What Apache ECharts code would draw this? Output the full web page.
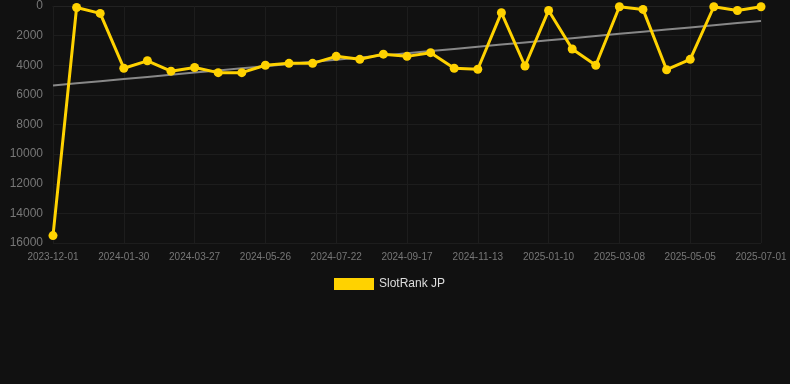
<!DOCTYPE html>
<html>
<head>
<meta charset="utf-8">
<script src="https://cdn.jsdelivr.net/npm/echarts@6/dist/echarts.min.js"></script>
<style>
  html, body { margin: 0; padding: 0; background: #111111; }
  #box { width: 790px; height: 384px; }
</style>
</head>
<body>
<div id="box"></div>
<script>
var chart = echarts.init(document.getElementById('box'));

// dates on the x axis (every 3rd one is labelled)
var dates = [
  '2023-12-01', '2023-12-21', '2024-01-10', '2024-01-30', '2024-02-18', '2024-03-08',
  '2024-03-27', '2024-04-16', '2024-05-06', '2024-05-26', '2024-06-14', '2024-07-03',
  '2024-07-22', '2024-08-10', '2024-08-29', '2024-09-17', '2024-10-06', '2024-10-25',
  '2024-11-13', '2024-12-03', '2024-12-22', '2025-01-10', '2025-01-29', '2025-02-17',
  '2025-03-08', '2025-03-27', '2025-04-16', '2025-05-05', '2025-05-24', '2025-06-12',
  '2025-07-01'
];

// rank values
var ranks = [
  15500, 100, 500, 4200, 3700, 4400,
  4150, 4500, 4500, 4000, 3870, 3870,
  3400, 3600, 3250, 3400, 3150, 4200,
  4270, 450, 4050, 300, 2900, 4000,
  50, 230, 4300, 3600, 50, 300,
  50
];

var seriesName = 'SlotRank JP';

// linear trend through the ranks
function trend(vals) {
  var n = vals.length, sx = 0, sy = 0, sxy = 0, sxx = 0;
  for (var i = 0; i < n; i++) {
    sx += i; sy += vals[i]; sxy += i * vals[i]; sxx += i * i;
  }
  var b = (n * sxy - sx * sy) / (n * sxx - sx * sx);
  var a = (sy - b * sx) / n;
  return vals.map(function(v, i) { return +(a + b * i).toFixed(1); });
}
var trendData = trend(ranks);

var gridColor = '#1d1d1d';
var font = 'Liberation Sans, Arial, sans-serif';

option = {
  backgroundColor: '#111111',
  animation: false,
  legend: {
    data: [{ name: seriesName, icon: 'rect' }],
    top: 273,
    left: 329,
    itemWidth: 40,
    itemHeight: 12,
    itemGap: 10,
    textStyle: { color: '#dddddd', fontSize: 12, fontFamily: font }
  },
  grid: {
    left: 53,
    right: 29,
    top: 6,
    bottom: 141
  },
  xAxis: {
    type: 'category',
    data: dates,
    boundaryGap: false,
    axisLine: { show: true, lineStyle: { color: '#222222' } },
    axisTick: { show: true, interval: 2, length: 5, lineStyle: { color: gridColor } },
    axisLabel: {
      interval: 2,
      color: '#777777',
      fontSize: 10,
      margin: 9,
      fontFamily: font
    },
    splitLine: { show: true, interval: 2, lineStyle: { color: gridColor, width: 1 } }
  },
  yAxis: {
    type: 'value',
    inverse: true,
    min: 0,
    max: 16000,
    interval: 2000,
    axisLine: { show: false },
    axisTick: { show: false },
    axisLabel: {
      color: '#777777',
      fontSize: 12,
      margin: 10,
      fontFamily: font,
      formatter: function(v) { return String(v); }
    },
    splitLine: { show: true, lineStyle: { color: gridColor, width: 1 } }
  },
  series: [
    {
      name: seriesName,
      type: 'line',
      data: ranks,
      symbol: 'circle',
      symbolSize: 9,
      itemStyle: { color: '#FFD200' },
      lineStyle: { color: '#FFD200', width: 3 },
      z: 3
    },
    {
      name: 'trend',
      type: 'line',
      data: trendData,
      symbol: 'none',
      lineStyle: { color: '#888888', width: 2 },
      silent: true,
      z: 2
    }
  ]
};

chart.setOption(option);
</script>
</body>
</html>
